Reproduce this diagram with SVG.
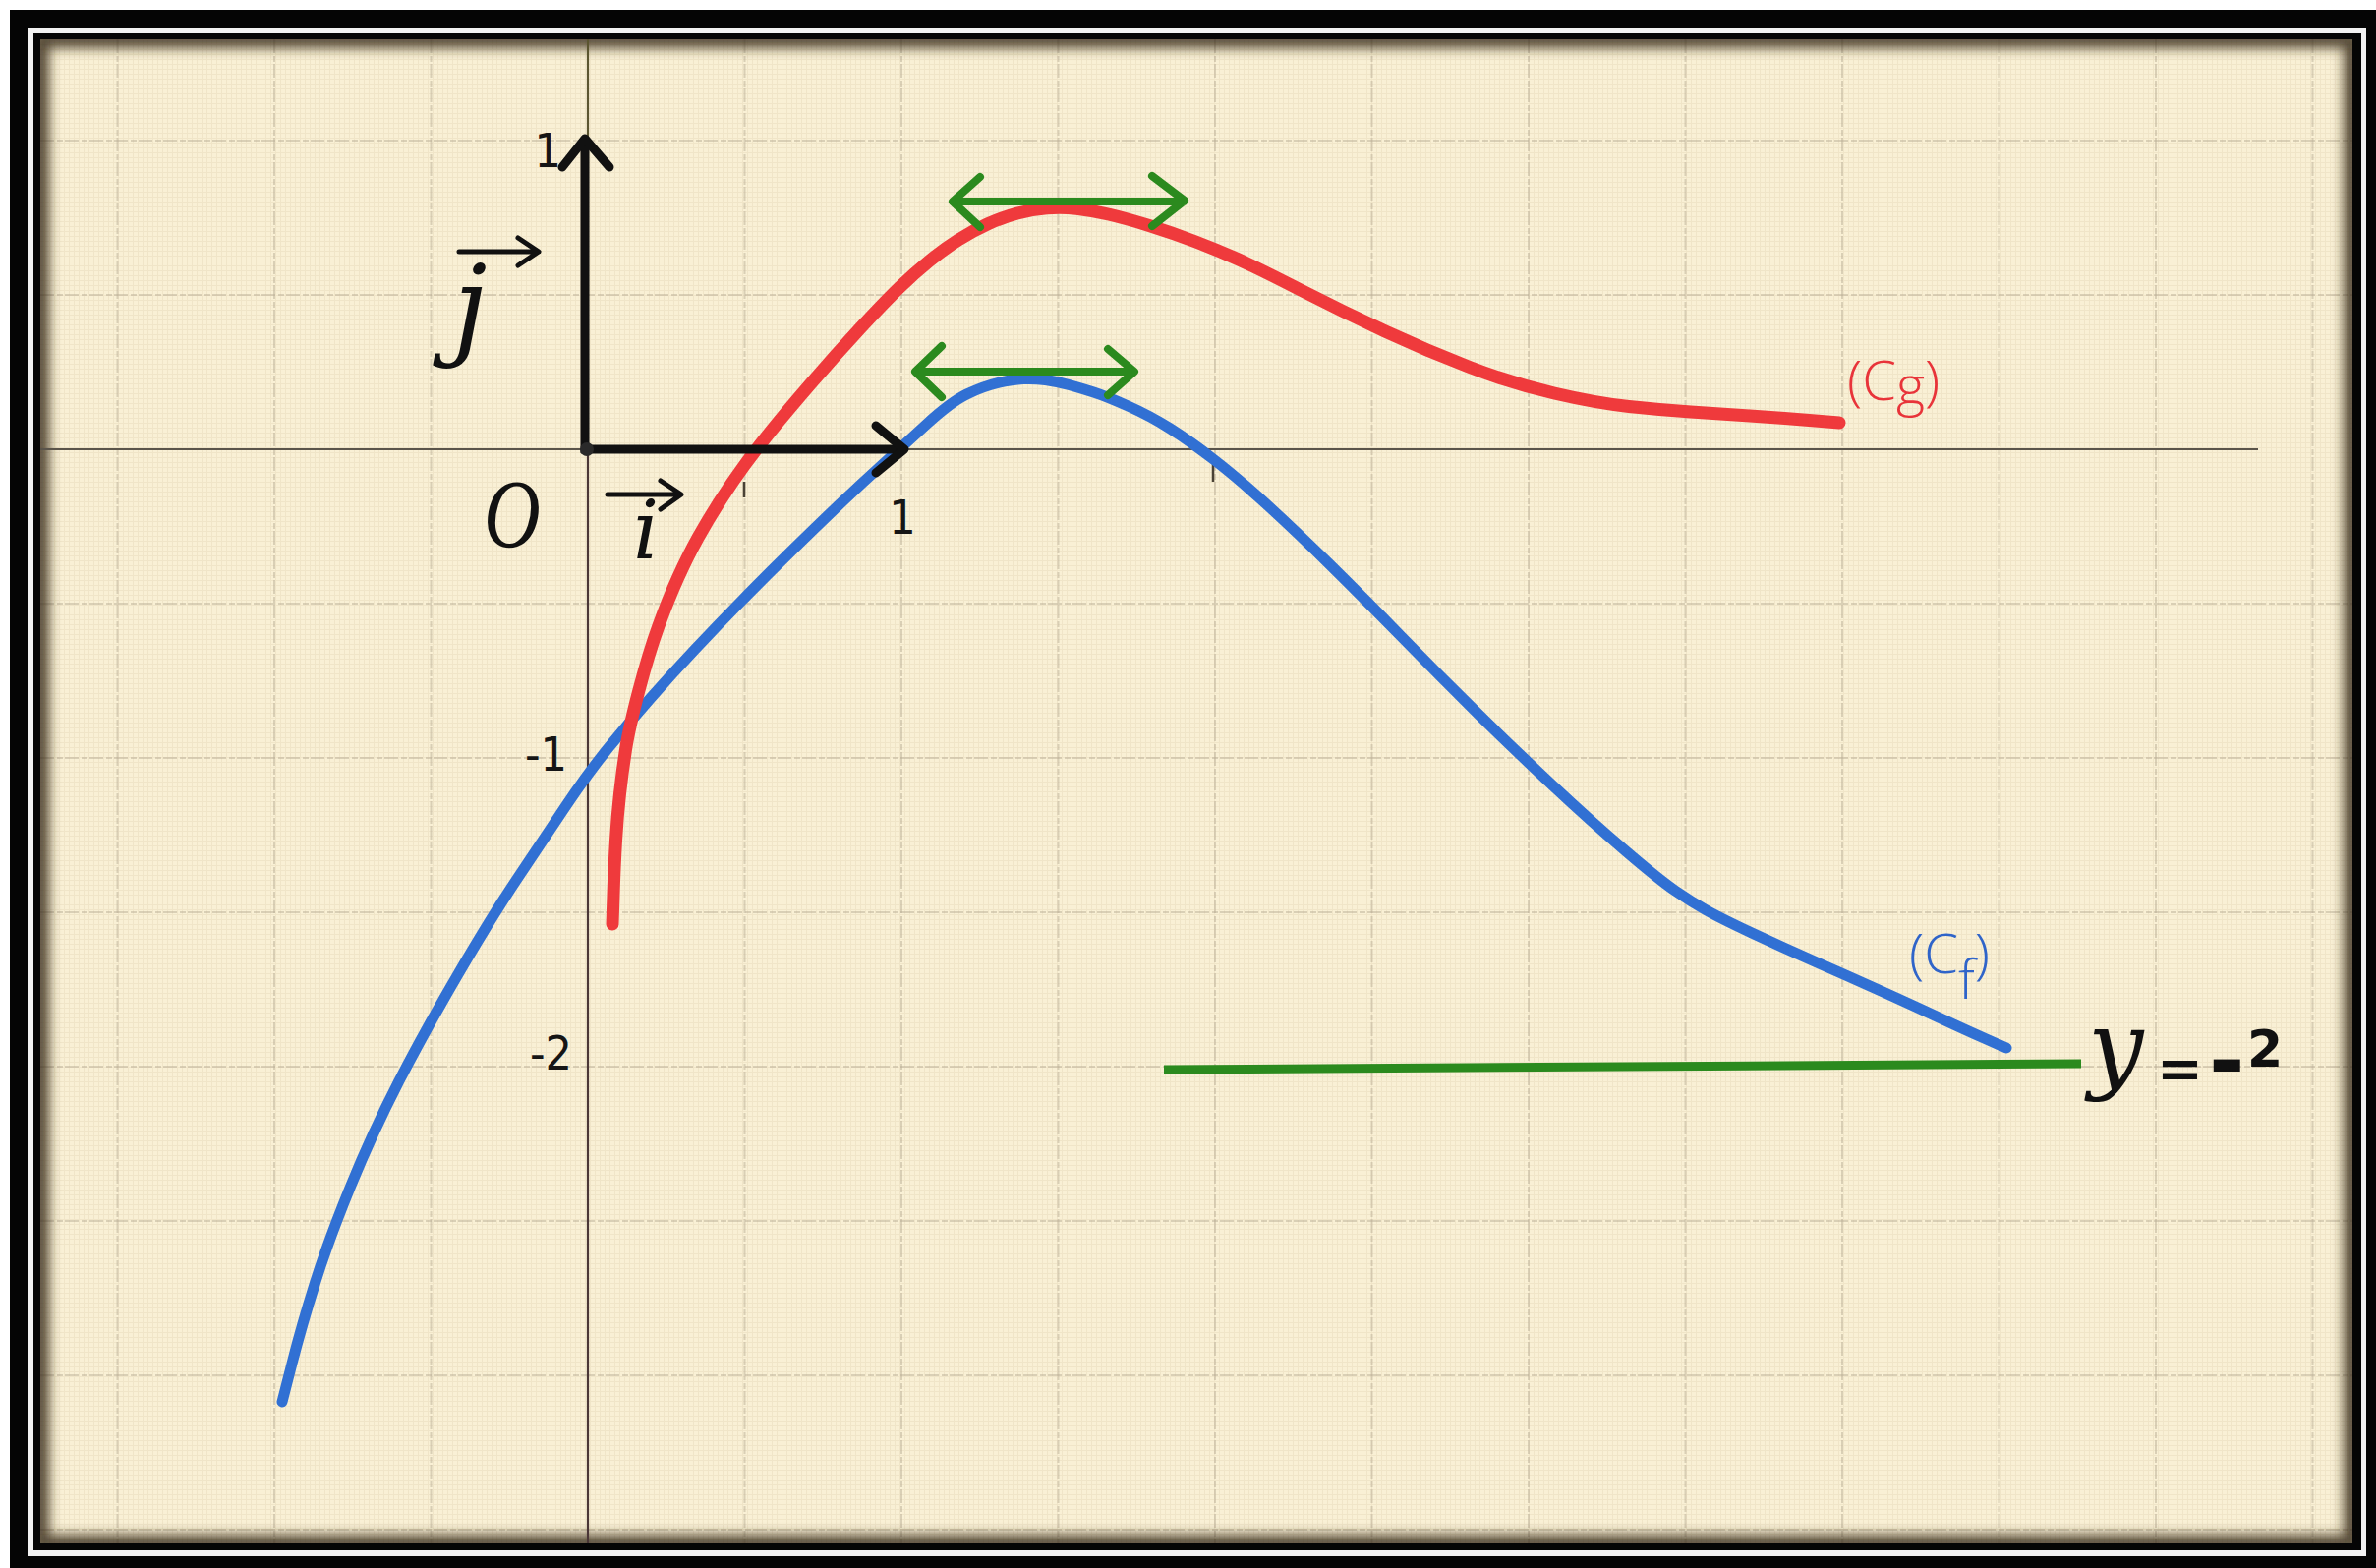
<svg xmlns="http://www.w3.org/2000/svg" width="2417" height="1595" viewBox="0 0 2417 1595">
  <defs>
    <style>
      .grid { stroke: #b9ae95; stroke-width: 2; opacity: 0.5; stroke-dasharray: 14 3 6 2; fill: none; }
      .axis-thin { stroke-width: 2.2; fill: none; }
      .vec { stroke: #111; stroke-width: 9; fill: none; stroke-linejoin: round; }
      .vecsmall { stroke: #111; stroke-width: 5; fill: none; stroke-linecap: round; stroke-linejoin: round; }
      .green { stroke: #2b8a1e; stroke-width: 8; fill: none; stroke-linecap: round; stroke-linejoin: round; }
      .num { font-family: "DejaVu Sans", "Liberation Sans", sans-serif; font-stretch: condensed; fill: #151515; font-size: 48px; }
      .script { font-family: "DejaVu Serif", "Liberation Serif", serif; font-style: italic; fill: #111; }
      .sym { font-family: "DejaVu Sans", sans-serif; font-style: normal; font-weight: bold; }
      .clabel { font-family: "Open Sans", "Liberation Sans", sans-serif; font-weight: 300; font-size: 56px; }
    </style>
    <pattern id="canvas" width="5" height="5" patternUnits="userSpaceOnUse">
      <rect width="5" height="5" fill="#f8efd4"/>
      <path d="M0 0.5 H5 M0.5 0 V5" stroke="#e2d6b6" stroke-width="1" opacity="0.6"/>
    </pattern>
    <clipPath id="paperClip">
      <rect x="41" y="40" width="2352" height="1530"/>
    </clipPath>
    <filter id="blur" x="-5%" y="-5%" width="110%" height="110%">
      <feGaussianBlur stdDeviation="6"/>
    </filter>
  </defs>

  <!-- frame -->
  <g id="frame">
    <rect x="0" y="0" width="2417" height="1595" fill="#ffffff"/>
    <rect x="10" y="10" width="2407" height="1585" fill="#050505"/>
    <rect x="28" y="28" width="2379" height="1555" fill="#f2f2f2"/>
    <rect x="34" y="34" width="2368" height="1543" fill="#050505"/>
  </g>

  <!-- paper -->
  <g id="paper" clip-path="url(#paperClip)">
    <rect x="41" y="40" width="2352" height="1530" fill="url(#canvas)"/>
    <rect x="41" y="40" width="2352" height="1530" fill="#fbf2d8" opacity="0.3"/>
    <g id="grid">
      <path class="grid" d="M119.5 40 V1570 M279 40 V1570 M438.5 40 V1570 M757.5 40 V1570 M917 40 V1570 M1076.5 40 V1570 M1236 40 V1570 M1395.5 40 V1570 M1555 40 V1570 M1714.5 40 V1570 M1874 40 V1570 M2033.5 40 V1570 M2193 40 V1570 M2352.5 40 V1570"/>
      <path class="grid" d="M41 143 H2393 M41 300 H2393 M41 614 H2393 M41 771 H2393 M41 928 H2393 M41 1085 H2393 M41 1242 H2393 M41 1399 H2393 M41 1556 H2393"/>
    </g>
    <rect x="41" y="40" width="2352" height="1530" fill="none" stroke="#3b2f1c" stroke-width="18" filter="url(#blur)" opacity="0.85"/>
  </g>

  <!-- thin axes -->
  <g id="axes">
    <line class="axis-thin" x1="598" y1="40" x2="598" y2="457" stroke="#5b5530"/>
    <line class="axis-thin" x1="598" y1="457" x2="598" y2="1570" stroke="#4a3636"/>
    <line class="axis-thin" x1="41" y1="457" x2="2297" y2="457" stroke="#5a544a" stroke-width="2.6"/>
    <path d="M757 490 V506 M1234 472 V490" stroke="#4a4235" stroke-width="2.5" fill="none"/>
  </g>

  <!-- curves -->
  <g id="curves">
    <path id="cf" d="M287,1426 L297,1387 Q307,1348 320.5,1305 Q334,1262 356.5,1207 Q379,1152 405.5,1100.5 Q432,1049 466,991 Q500,933 525,895.5 Q550,858 574.5,821.5 Q599,785 619.5,760 Q640,735 661.5,710.5 Q683,686 706.5,661 Q730,636 755,610.5 Q780,585 805,560.5 Q830,536 852.5,514.5 Q875,493 896,474 Q917,455 942,432 Q967,409 983.5,401 Q1000,393 1015,389.5 Q1030,386 1041,385.5 Q1052,385 1063.5,386.5 Q1075,388 1087.5,391.5 Q1100,395 1112.5,399 Q1125,403 1147.5,413 Q1170,423 1190.5,436 Q1211,449 1235.5,468 Q1260,487 1290,514.5 Q1320,542 1353.5,575 Q1387,608 1425.5,647.5 Q1464,687 1502.5,725 Q1541,763 1580,799.5 Q1619,836 1653.5,865.5 Q1688,895 1704,906 Q1720,917 1735,925.5 Q1750,934 1782,949 Q1814,964 1847,978.5 Q1880,993 1910,1006.5 Q1940,1020 1970,1034 Q2000,1048 2020.5,1057 L2041,1066" fill="none" stroke="#3170d3" stroke-width="11" stroke-linecap="round" stroke-linejoin="round"/>
    <path id="cg" d="M623,940 L624,910 Q625,880 626.5,855 Q628,830 630.5,807.5 Q633,785 636.5,762.5 Q640,740 650,702 Q660,664 670,636.5 Q680,609 690,587 Q700,565 710,547 Q720,529 732.5,509.5 Q745,490 757.5,473 Q770,456 785,437.5 Q800,419 825,390 Q850,361 875,334 Q900,307 915,292.5 Q930,278 945,265.75 Q960,253.5 975,244 Q990,234.5 1005,227.75 Q1020,221 1035,217 Q1050,213 1065,211.75 Q1080,210.5 1095,212.25 Q1110,214 1127.5,218 Q1145,222 1169,229.5 Q1193,237 1216.5,246 Q1240,255 1260,264 Q1280,273 1323,295 Q1366,317 1409,337 Q1452,357 1495,373.5 Q1538,390 1581,400 Q1624,410 1657,413.5 Q1690,417 1720,419 Q1750,421 1780,423 Q1810,425 1840.5,427.5 L1871,430" fill="none" stroke="#ef3a3c" stroke-width="13" stroke-linecap="round" stroke-linejoin="round"/>
  </g>

  <!-- green tangents and asymptote -->
  <g id="tangents">
    <path class="green" d="M971 205 H1204 M997 180 L969 205 L997 231 M1172 179 L1205 204 L1172 230"/>
    <path class="green" d="M933 378 H1152 M958 352 L931 378 L958 404 M1127 355 L1154 378 L1127 402"/>
    <line class="green" x1="1184" y1="1088" x2="2117" y2="1082" style="stroke-width:9;stroke-linecap:butt"/>
  </g>

  <!-- unit vectors -->
  <g id="vectors">
    <path class="vec" d="M595 461 V142"/>
    <path class="vec" d="M572 170 L595 141 L620 170" style="stroke-linecap:round"/>
    <path class="vec" d="M591 457 H919"/>
    <path class="vec" d="M891 433 L920 457 L891 481" style="stroke-linecap:round"/>
    <circle cx="597" cy="457" r="7" fill="#2a2a2a"/>
  </g>

  <!-- labels -->
  <g id="labels">
    <text class="num" x="571" y="170" text-anchor="end">1</text>
    <text class="num" x="918" y="543" text-anchor="middle">1</text>
    <text class="num" x="577" y="784" text-anchor="end">-1</text>
    <text class="num" x="582" y="1088" text-anchor="end">-2</text>

    <text class="script" x="478" y="350" font-size="112" text-anchor="middle">j</text>
    <path class="vecsmall" d="M467 256 H547 M527 242 L548 256 L527 270"/>

    <text class="script" font-size="100" text-anchor="middle" transform="translate(521,556) scale(0.8,1)" style="font-family:'Liberation Serif',serif">O</text>

    <text class="script" x="657" y="568" font-size="82" text-anchor="middle">i</text>
    <path class="vecsmall" d="M618 503 H692 M672 489 L693 503 L672 518"/>

    <text class="clabel" x="1879" y="407" fill="#e8343a">(C<tspan dy="5">g</tspan><tspan dy="-5">)</tspan></text>
    <text class="clabel" x="1942" y="990" fill="#2f64c9">(C<tspan dy="26">f</tspan><tspan dy="-26">)</tspan></text>

    <text class="script"><tspan x="2124" y="1099" font-size="100">y</tspan><tspan class="sym" x="2194" y="1106" font-size="56">=</tspan><tspan class="sym" x="2247" y="1109" font-size="88">-</tspan><tspan class="sym" x="2286" y="1085" font-size="52">2</tspan></text>
  </g>
</svg>
